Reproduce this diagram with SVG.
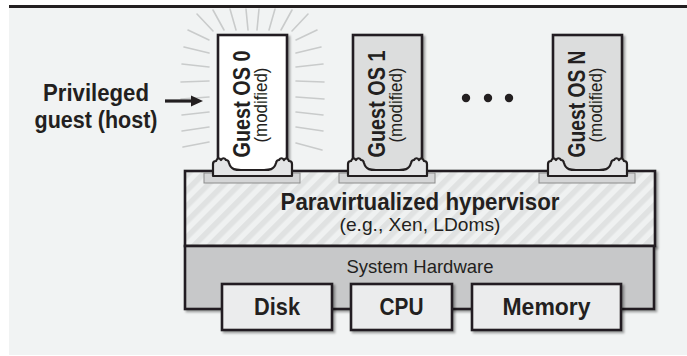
<svg xmlns="http://www.w3.org/2000/svg" xmlns:xlink="http://www.w3.org/1999/xlink" width="687" height="356" viewBox="0 0 687 356">
<style>
.dk{stroke:#231f20;stroke-width:2.6;}
.t{fill:#231f20;font-family:"Liberation Sans",Arial,sans-serif;}
.b{font-weight:bold;}
.ray{stroke:#c9cbcb;stroke-width:1.6;stroke-linecap:round;fill:none;}
.slot{fill:#d4d5d6;stroke:#8c8c8c;stroke-width:1;}
.foot{fill:#e4e5e6;stroke:#231f20;stroke-width:2.2;stroke-linejoin:round;}
</style>
<defs>
<pattern id="hatch" patternUnits="userSpaceOnUse" width="11" height="11" patternTransform="rotate(45)">
<rect width="11" height="11" fill="#eff1f1"/>
<rect width="5.5" height="11" fill="#e0e2e2"/>
</pattern>
<filter id="sh" x="-10%" y="-10%" width="130%" height="130%">
<feDropShadow dx="2" dy="2" stdDeviation="1" flood-color="#000" flood-opacity="0.35"/>
</filter>
<path id="footShape" d="M -5,176 L -5,164 Q -5,161 -2,161 Q 0,156.5 3,160 Q 5.5,156.5 8,160 Q 10.5,160 11,163 C 13,170 18,170 23,170 L 46,170 C 51,170 56,170 58,163 Q 58.5,160 61,160 Q 63.5,156.5 66,160 Q 69,156.5 71,161 Q 74,161 74,164 L 74,176 Z"/>
</defs>

<rect x="9" y="8" width="678" height="347" fill="#f1f3f3"/>
<rect x="9" y="5" width="678" height="3" fill="#231f20"/>

<g id="glow">
<line class="ray" x1="188" y1="30" x2="209" y2="40"/>
<line class="ray" x1="184" y1="47" x2="209" y2="53"/>
<line class="ray" x1="182" y1="64" x2="209" y2="67"/>
<line class="ray" x1="181" y1="82" x2="209" y2="81"/>
<line class="ray" x1="181" y1="99" x2="209" y2="97"/>
<line class="ray" x1="182" y1="115" x2="209" y2="112"/>
<line class="ray" x1="182" y1="131" x2="209" y2="127"/>
<line class="ray" x1="183" y1="147" x2="209" y2="142"/>
<line class="ray" x1="197" y1="14" x2="213" y2="31"/>
<line class="ray" x1="213" y1="10" x2="224" y2="30"/>
<line class="ray" x1="230" y1="9" x2="236" y2="30"/>
<line class="ray" x1="246" y1="9" x2="248" y2="30"/>
<line class="ray" x1="259" y1="9" x2="257" y2="30"/>
<line class="ray" x1="275" y1="9" x2="269" y2="30"/>
<line class="ray" x1="292" y1="10" x2="281" y2="30"/>
<line class="ray" x1="308" y1="14" x2="292" y2="31"/>
<line class="ray" x1="317" y1="30" x2="296" y2="40"/>
<line class="ray" x1="321" y1="47" x2="296" y2="53"/>
<line class="ray" x1="323" y1="64" x2="296" y2="67"/>
<line class="ray" x1="324" y1="82" x2="296" y2="81"/>
<line class="ray" x1="324" y1="99" x2="296" y2="97"/>
<line class="ray" x1="323" y1="115" x2="296" y2="112"/>
<line class="ray" x1="323" y1="131" x2="296" y2="127"/>
<line class="ray" x1="322" y1="150" x2="296" y2="143"/>
</g>

<g id="privileged-label">
<text class="t b" x="96" y="101" font-size="23.5" text-anchor="middle" textLength="106" lengthAdjust="spacingAndGlyphs">Privileged</text>
<text class="t b" x="96" y="128" font-size="23.5" text-anchor="middle" textLength="123" lengthAdjust="spacingAndGlyphs">guest (host)</text>
</g>

<g id="connectors">
<line x1="165" y1="101" x2="193" y2="101" stroke="#231f20" stroke-width="3.2"/>
<polygon points="191,95.5 203,101 191,106.5" fill="#231f20"/>
</g>

<g id="hypervisor">
<rect x="185" y="171" width="470" height="75" fill="url(#hatch)" class="dk" filter="url(#sh)"/>
<text class="t b" x="420" y="210" font-size="24" text-anchor="middle" textLength="279" lengthAdjust="spacingAndGlyphs">Paravirtualized hypervisor</text>
<text class="t" x="420" y="231" font-size="19" text-anchor="middle" textLength="161" lengthAdjust="spacingAndGlyphs">(e.g., Xen, LDoms)</text>
</g>

<g id="hardware">
<rect x="185" y="246" width="469" height="63" fill="#c7c8c9" class="dk" filter="url(#sh)"/>
<text class="t" x="420" y="273" font-size="19" text-anchor="middle" textLength="147" lengthAdjust="spacingAndGlyphs">System Hardware</text>
</g>

<g id="disk">
<rect x="222" y="284" width="110" height="46" fill="#ebeced" class="dk" filter="url(#sh)"/>
<text class="t b" x="277" y="315" font-size="24" text-anchor="middle" textLength="46" lengthAdjust="spacingAndGlyphs">Disk</text>
</g>
<g id="cpu">
<rect x="351" y="284" width="101" height="46" fill="#ebeced" class="dk" filter="url(#sh)"/>
<text class="t b" x="401.5" y="315" font-size="24" text-anchor="middle" textLength="44" lengthAdjust="spacingAndGlyphs">CPU</text>
</g>
<g id="memory">
<rect x="472" y="284" width="149" height="46" fill="#ebeced" class="dk" filter="url(#sh)"/>
<text class="t b" x="546.5" y="315" font-size="24" text-anchor="middle" textLength="88" lengthAdjust="spacingAndGlyphs">Memory</text>
</g>

<g id="guest0" transform="translate(218,0)">
<rect class="slot" x="-14" y="173" width="96" height="10"/>
<rect x="0" y="35" width="69" height="137" fill="#ffffff" class="dk" filter="url(#sh)"/>
<use xlink:href="#footShape" class="foot"/>
<text class="t b" transform="translate(32,104) rotate(-90)" font-size="23" text-anchor="middle" textLength="107" lengthAdjust="spacingAndGlyphs">Guest OS 0</text>
<text class="t" transform="translate(49,105) rotate(-90)" font-size="17.5" text-anchor="middle" textLength="75" lengthAdjust="spacingAndGlyphs">(modified)</text>
</g>

<g id="guest1" transform="translate(353,0)">
<rect class="slot" x="-14" y="173" width="96" height="10"/>
<rect x="0" y="35" width="69" height="137" fill="#dcdddd" class="dk" filter="url(#sh)"/>
<use xlink:href="#footShape" class="foot"/>
<text class="t b" transform="translate(32,104) rotate(-90)" font-size="23" text-anchor="middle" textLength="107" lengthAdjust="spacingAndGlyphs">Guest OS 1</text>
<text class="t" transform="translate(49,105) rotate(-90)" font-size="17.5" text-anchor="middle" textLength="75" lengthAdjust="spacingAndGlyphs">(modified)</text>
</g>

<g id="ellipsis">
<circle cx="466" cy="98" r="4.2" fill="#231f20"/>
<circle cx="488" cy="98" r="4.2" fill="#231f20"/>
<circle cx="509" cy="98" r="4.2" fill="#231f20"/>
</g>

<g id="guestN" transform="translate(553,0)">
<rect class="slot" x="-14" y="173" width="96" height="10"/>
<rect x="0" y="35" width="69" height="137" fill="#dcdddd" class="dk" filter="url(#sh)"/>
<use xlink:href="#footShape" class="foot"/>
<text class="t b" transform="translate(32,104) rotate(-90)" font-size="23" text-anchor="middle" textLength="107" lengthAdjust="spacingAndGlyphs">Guest OS N</text>
<text class="t" transform="translate(49,105) rotate(-90)" font-size="17.5" text-anchor="middle" textLength="75" lengthAdjust="spacingAndGlyphs">(modified)</text>
</g>
</svg>
